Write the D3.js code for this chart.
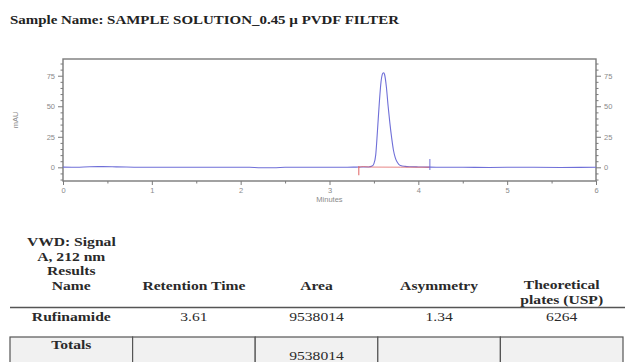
<!DOCTYPE html>
<html>
<head>
<meta charset="utf-8">
<script src="https://cdn.jsdelivr.net/npm/d3@7"></script>
<style>
  html, body { margin: 0; padding: 0; background: #fff; }
  svg { display: block; }
</style>
</head>
<body>
<svg id="chart" width="636" height="362"></svg>
<script>
// ---- chromatogram data (time in minutes, signal in mAU) ----
const sampleName = "Sample Name: SAMPLE SOLUTION_0.45 µ PVDF FILTER";
const signalTimes = [0, 0.15, 0.3, 0.45, 0.6, 0.8, 1.0, 1.3, 1.6, 1.9, 2.1, 2.2, 2.3, 2.4, 2.5, 2.7, 3.0, 3.2, 3.3, 3.4, 3.44, 3.48, 3.50, 3.52, 3.54, 3.56, 3.58, 3.60, 3.61, 3.62, 3.64, 3.66, 3.68, 3.70, 3.72, 3.74, 3.76, 3.78, 3.80, 3.85, 3.90, 4.00, 4.10, 4.20, 4.50, 4.80, 5.00, 5.30, 5.60, 6.00];
const signalValues = [0.2, 0.1, 0.5, 0.6, 0.4, 0.1, 0.0, 0.1, 0.0, 0.1, 0.0, -0.3, -0.4, -0.3, 0.0, 0.1, 0.0, 0.1, 0.2, 0.3, 0.3, 1.0, 3.0, 10, 30, 52, 70, 77, 77.5, 76, 66, 50, 36, 24, 14, 8, 4.5, 2.5, 1.5, 0.8, 0.5, 0.3, 0.2, 0.1, 0.0, -0.1, 0.0, 0.0, -0.1, 0.0];
// integration baseline and its event marks
const baselineTimes = [3.33, 3.38, 3.44, 3.48, 3.80, 4.13];
const baselineValues = [0.0, 0.6, 0.3, 0.2, 0.1, 0.1];
const peakStartMark = { t: 3.33, lo: -6.5, hi: 1.0 };
const peakEndMark = { t: 4.13, lo: -2.2, hi: 6.8 };
const xTicks = [0, 1, 2, 3, 4, 5, 6];
const yTicks = [0, 25, 50, 75];
const xLabel = "Minutes";
const yLabel = "mAU";

// ---- results table ----
const detectorLines = ["VWD: Signal", "A, 212 nm", "Results", "Name"];
const columns = ["Name", "Retention Time", "Area", "Asymmetry", "Theoretical plates (USP)"];
const headerLines = [detectorLines, ["Retention Time"], ["Area"], ["Asymmetry"], ["Theoretical", "plates (USP)"]];
const resultRow = ["Rufinamide", "3.61", "9538014", "1.34", "6264"];
const totalsRow = ["Totals", "", "9538014", "", ""];

const svg = d3.select("#chart");

// title
const titleG = svg.append("g").attr("transform", "translate(10,24) scale(1.15,1)");
titleG.append("text")
  .attr("font-family", "Liberation Serif, Times New Roman, serif")
  .attr("font-weight", "bold").attr("font-size", 13).attr("fill", "#222")
  .text(sampleName);

// ---- plot ----
const x = d3.scaleLinear().domain([0, 6]).range([63, 596]);
const y = d3.scaleLinear().domain([-11.2, 88.7]).range([181, 59]);
const axisColor = "#7a7a7a";
const labelColor = "#8a8a8a";

const plot = svg.append("g");

function styleAxis(g) {
  g.select(".domain").remove();
  g.selectAll(".tick line").attr("stroke", axisColor).attr("stroke-width", 1);
  g.selectAll(".tick text").attr("fill", labelColor)
    .attr("font-family", "Liberation Sans, Arial, sans-serif").attr("font-size", 7.5);
}

const yMinor = d3.range(-10, 90, 5).filter(v => v % 25 !== 0);
const xMinor = d3.range(0.5, 6, 1);

// left axis
plot.append("g").attr("transform", `translate(${x(0)},0)`)
  .call(d3.axisLeft(y).tickValues(yTicks).tickSize(5).tickPadding(3))
  .call(styleAxis);
plot.append("g").attr("transform", `translate(${x(0)},0)`)
  .call(d3.axisLeft(y).tickValues(yMinor).tickSize(2.5).tickFormat(""))
  .call(styleAxis);
// right axis
plot.append("g").attr("transform", `translate(${x(6)},0)`)
  .call(d3.axisRight(y).tickValues(yTicks).tickSize(5).tickPadding(3))
  .call(styleAxis);
plot.append("g").attr("transform", `translate(${x(6)},0)`)
  .call(d3.axisRight(y).tickValues(yMinor).tickSize(2.5).tickFormat(""))
  .call(styleAxis);
// bottom axis
plot.append("g").attr("transform", `translate(0,${y.range()[0]})`)
  .call(d3.axisBottom(x).tickValues(xTicks).tickSize(4).tickPadding(3).tickFormat(d3.format("d")))
  .call(styleAxis);
plot.append("g").attr("transform", `translate(0,${y.range()[0]})`)
  .call(d3.axisBottom(x).tickValues(xMinor).tickSize(2.5).tickFormat(""))
  .call(styleAxis);

// frame
plot.append("rect")
  .attr("x", x(0)).attr("y", y.range()[1])
  .attr("width", x(6) - x(0)).attr("height", y.range()[0] - y.range()[1])
  .attr("fill", "none").attr("stroke", axisColor).attr("stroke-width", 1.4);

// axis titles
plot.append("text")
  .attr("x", (x(0) + x(6)) / 2).attr("y", 202)
  .attr("text-anchor", "middle").attr("fill", labelColor)
  .attr("font-family", "Liberation Sans, Arial, sans-serif").attr("font-size", 7.5)
  .text(xLabel);
plot.append("text")
  .attr("transform", `translate(18,${(y.range()[0] + y.range()[1]) / 2}) rotate(-90)`)
  .attr("text-anchor", "middle").attr("fill", labelColor)
  .attr("font-family", "Liberation Sans, Arial, sans-serif").attr("font-size", 7.5)
  .text(yLabel);

// signal trace
const signal = signalTimes.map((t, i) => ({ t, v: signalValues[i] }));
const line = d3.line().x(d => x(d.t)).y(d => y(d.v)).curve(d3.curveMonotoneX);
plot.append("path").datum(signal)
  .attr("d", line).attr("fill", "none")
  .attr("stroke", "#6f6fd8").attr("stroke-width", 1.1);

// integration baseline
const base = baselineTimes.map((t, i) => ({ t, v: baselineValues[i] }));
plot.append("path").datum(base)
  .attr("d", line).attr("fill", "none")
  .attr("stroke", "#e06060").attr("stroke-width", 0.9).attr("opacity", 0.85);

// peak event marks
plot.append("line")
  .attr("x1", x(peakStartMark.t)).attr("x2", x(peakStartMark.t))
  .attr("y1", y(peakStartMark.lo)).attr("y2", y(peakStartMark.hi))
  .attr("stroke", "#e06060").attr("stroke-width", 1);
plot.append("line")
  .attr("x1", x(peakEndMark.t)).attr("x2", x(peakEndMark.t))
  .attr("y1", y(peakEndMark.lo)).attr("y2", y(peakEndMark.hi))
  .attr("stroke", "#6f6fd8").attr("stroke-width", 1);

// ---- results table ----
const col = d3.scaleBand().domain(columns).range([10, 623]);
const colCenter = c => col(c) + col.bandwidth() / 2;
const tableFont = "Liberation Serif, Times New Roman, serif";
const tableColor = "#2a2a2a";

function cellText(cx, baseline, str, bold) {
  const g = svg.append("g").attr("transform", `translate(${cx},${baseline}) scale(1.25,1)`);
  g.append("text")
    .attr("text-anchor", "middle")
    .attr("font-family", tableFont).attr("font-size", 12.5)
    .attr("font-weight", bold ? "bold" : "normal")
    .attr("fill", tableColor)
    .text(str);
}

// header block: lines stack upward from the header baseline
const headerBaseline = 290;
const lineStep = 14.6;
headerLines.forEach((lines, i) => {
  const c = columns[i];
  if (lines.length === 2) {
    cellText(colCenter(c), headerBaseline - 1, lines[0], true);
    cellText(colCenter(c), headerBaseline - 1 + lineStep, lines[1], true);
  } else {
    lines.forEach((s, j) => {
      cellText(colCenter(c), headerBaseline - (lines.length - 1 - j) * lineStep, s, true);
    });
  }
});

// rule under header
svg.append("line")
  .attr("x1", 10).attr("x2", 625).attr("y1", 307.5).attr("y2", 307.5)
  .attr("stroke", "#555").attr("stroke-width", 1.3);

// result row
resultRow.forEach((s, i) => cellText(colCenter(columns[i]), 321, s, i === 0));

// totals row boxes
svg.append("g").selectAll("rect").data(columns).join("rect")
  .attr("x", d => col(d)).attr("y", 337)
  .attr("width", col.bandwidth()).attr("height", 40)
  .attr("fill", "#f1f1f1").attr("stroke", "#555").attr("stroke-width", 1.2);
totalsRow.forEach((s, i) => {
  if (!s) return;
  cellText(colCenter(columns[i]), i === 0 ? 349 : 360, s, i === 0);
});
</script>
</body>
</html>
